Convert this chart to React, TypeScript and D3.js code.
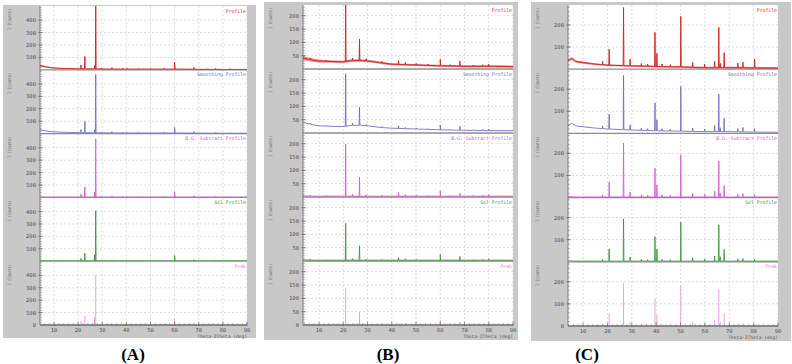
import React from 'react';
import * as d3 from 'd3';

// ---- shared labels ----
const SUBPLOT_TITLES = ['Profile', 'Smoothing Profile', 'B.G. Subtract Profile', 'Sol Profile', 'Peak'];
const TRACE_COLORS = ['#d42a2a', '#6c6cbc', '#cc5ccc', '#3f8f3f', '#e48ad4'];
const TWO_THETA_TICKS = [10, 20, 30, 40, 50, 60, 70, 80, 90];
const X_TITLE = 'Theta-2Theta (deg)';
const Y_TITLE = 'I (Counts)';

// ---- sample A ----
const A_Y_TICKS = [100, 200, 300, 400];
const A_BG_THETA = [4, 5, 7, 10, 15, 20, 30, 40, 50, 60, 70, 80, 90];
const A_PROFILE_BG = [32, 30, 22, 15, 10, 8, 6, 5, 5, 5, 4, 3, 3];
const A_PROFILE_NOISE = [7, 7, 5, 4, 4, 3, 3, 3, 3, 3, 3, 3, 3];
const A_SMOOTH_BG = [30, 28, 20, 14, 10, 8, 6, 5, 5, 5, 4, 3, 3];
const A_RESIDUAL_BG = [3, 3, 2, 2, 2, 2, 2, 2, 2, 2, 2, 2, 2];
const A_PEAK_THETA = [21.2, 22.8, 26.8, 27.3, 29.6, 34.0, 38.5, 40.4, 45.0, 50.2, 55.5, 60.0, 68.0, 73.5, 77.0, 83.0];
const A_PROFILE_H = [30, 100, 28, 560, 8, 12, 6, 6, 5, 5, 8, 55, 15, 5, 8, 6];
const A_SMOOTH_H = [25, 90, 25, 470, 6, 10, 5, 5, 4, 4, 6, 43, 12, 4, 6, 4];
const A_BGSUB_H = [25, 83, 40, 470, 6, 10, 5, 5, 4, 4, 6, 43, 12, 4, 6, 4];
const A_SOL_H = [20, 62, 50, 405, 5, 8, 4, 4, 3, 3, 5, 43, 10, 3, 5, 3];
const A_PEAK_H = [32, 75, 65, 403, 6, 10, 5, 5, 4, 4, 5, 48, 10, 4, 5, 4];

// ---- sample B ----
const B_Y_TICKS = [50, 100, 150, 200];
const B_BG_THETA = [3.4, 5, 8, 10, 15, 20, 23, 27, 30, 35, 40, 50, 60, 70, 80, 90];
const B_PROFILE_BG = [42, 38, 32, 30, 28, 27, 31, 32, 30, 24, 18, 15, 12, 10, 10, 9];
const B_PROFILE_NOISE = [8, 7, 6, 6, 5, 5, 5, 5, 5, 4, 4, 4, 4, 4, 4, 4];
const B_SMOOTH_BG = [40, 36, 30, 27, 25, 24, 28, 29, 27, 21, 18, 15, 12, 10, 9, 9];
const B_RESIDUAL_BG = [4, 4, 3, 3, 3, 3, 3, 3, 3, 3, 3, 3, 3, 3, 3, 3];
const B_PEAK_THETA = [6.5, 13.0, 21.0, 23.8, 26.7, 29.5, 36.0, 42.8, 45.6, 50.1, 55.0, 60.0, 64.0, 68.1, 73.5, 77.5, 80.0];
const B_PROFILE_H = [6, 5, 212, 10, 80, 8, 6, 14, 8, 6, 5, 24, 5, 19, 5, 6, 8];
const B_SMOOTH_H = [4, 3, 197, 8, 68, 5, 4, 10, 5, 4, 3, 18, 3, 15, 3, 4, 6];
const B_BGSUB_H = [4, 3, 195, 8, 71, 5, 4, 14, 6, 4, 3, 20, 3, 11, 3, 4, 6];
const B_SOL_H = [3, 2, 138, 6, 54, 4, 3, 10, 5, 3, 2, 22, 2, 14, 2, 3, 5];
const B_PEAK_H = [4, 3, 140, 5, 50, 4, 3, 6, 8, 3, 3, 19, 3, 12, 3, 3, 5];

// ---- sample C ----
const C_Y_TICKS = [100, 200];
const C_BG_THETA = [3.8, 5.4, 7, 10, 15, 20, 30, 40, 50, 60, 70, 80, 90];
const C_PROFILE_BG = [38, 48, 35, 30, 23, 18, 15, 12, 10, 7, 7, 6, 5];
const C_PROFILE_NOISE = [6, 6, 5, 5, 4, 4, 4, 4, 4, 4, 4, 4, 4];
const C_SMOOTH_BG = [35, 45, 34, 30, 24, 20, 15, 12, 10, 8, 8, 6, 5];
const C_RESIDUAL_BG = [4, 4, 3, 3, 3, 3, 3, 3, 3, 3, 3, 3, 3];
const C_PEAK_THETA = [18.0, 20.7, 26.6, 29.3, 33.9, 36.5, 39.5, 40.3, 42.4, 45.8, 50.1, 55.0, 59.9, 64.0, 65.7, 66.3, 67.9, 73.5, 75.6, 80.4];
const C_PROFILE_H = [15, 73, 262, 30, 12, 10, 154, 60, 12, 10, 229, 22, 16, 28, 182, 20, 68, 21, 26, 40];
const C_SMOOTH_H = [12, 68, 245, 23, 10, 8, 126, 50, 10, 8, 202, 15, 12, 28, 169, 18, 61, 15, 20, 15];
const C_BGSUB_H = [10, 68, 243, 23, 10, 8, 130, 55, 10, 8, 190, 15, 12, 26, 162, 18, 50, 12, 15, 10];
const C_SOL_H = [8, 55, 191, 19, 8, 6, 110, 55, 8, 6, 176, 15, 10, 23, 164, 20, 53, 10, 12, 8];
const C_PEAK_H = [8, 56, 195, 18, 8, 6, 125, 50, 8, 6, 182, 15, 10, 29, 165, 18, 56, 10, 12, 8];

type PanelSpec = {
  caption: string;
  captionX: number;
  frame: [number, number, number, number];
  plot: [number, number, number, number];
  domain: [number, number];
  yMax: number;
  yTicks: number[];
  yMinorStep: number;
  bgTheta: number[];
  profileBg: number[];
  profileNoise: number[];
  smoothBg: number[];
  residualBg: number[];
  peakTheta: number[];
  heights: number[][];
};

const PANELS: PanelSpec[] = [
  {
    caption: '(A)', captionX: 133,
    frame: [3, 5, 256, 338], plot: [40, 6, 247, 325],
    domain: [4.2, 90], yMax: 514, yTicks: A_Y_TICKS, yMinorStep: 20,
    bgTheta: A_BG_THETA, profileBg: A_PROFILE_BG, profileNoise: A_PROFILE_NOISE,
    smoothBg: A_SMOOTH_BG, residualBg: A_RESIDUAL_BG, peakTheta: A_PEAK_THETA,
    heights: [A_PROFILE_H, A_SMOOTH_H, A_BGSUB_H, A_SOL_H, A_PEAK_H],
  },
  {
    caption: '(B)', captionX: 388,
    frame: [264, 2, 518, 340], plot: [303, 5, 513, 325],
    domain: [3.4, 90], yMax: 240, yTicks: B_Y_TICKS, yMinorStep: 10,
    bgTheta: B_BG_THETA, profileBg: B_PROFILE_BG, profileNoise: B_PROFILE_NOISE,
    smoothBg: B_SMOOTH_BG, residualBg: B_RESIDUAL_BG, peakTheta: B_PEAK_THETA,
    heights: [B_PROFILE_H, B_SMOOTH_H, B_BGSUB_H, B_SOL_H, B_PEAK_H],
  },
  {
    caption: '(C)', captionX: 587,
    frame: [531, 2, 791, 341], plot: [568, 5, 778, 326],
    domain: [3.8, 90], yMax: 290, yTicks: C_Y_TICKS, yMinorStep: 20,
    bgTheta: C_BG_THETA, profileBg: C_PROFILE_BG, profileNoise: C_PROFILE_NOISE,
    smoothBg: C_SMOOTH_BG, residualBg: C_RESIDUAL_BG, peakTheta: C_PEAK_THETA,
    heights: [C_PROFILE_H, C_SMOOTH_H, C_BGSUB_H, C_SOL_H, C_PEAK_H],
  },
];

const MONO = '"DejaVu Sans Mono", "Liberation Mono", monospace';

// Background line with narrow spikes placed on top of it at every reflection.
function tracePoints(theta: number[], bg: number[], peaks: number[], heights: number[], w = 0.15) {
  const bgAt = d3.scaleLinear().domain(theta).range(bg).clamp(true);
  const pts: [number, number][] = theta.map((t, j) => [t, bg[j]] as [number, number]);
  peaks.forEach((p, j) => {
    pts.push([p - w, bgAt(p - w)], [p, bgAt(p) + heights[j]], [p + w, bgAt(p + w)]);
  });
  pts.sort((a, b) => a[0] - b[0]);
  return pts;
}

function Panel({ spec, idx }: { spec: PanelSpec; idx: number }) {
  const [px0, py0, px1, py1] = spec.plot;
  const [fx0, fy0, fx1, fy1] = spec.frame;
  const subH = (py1 - py0) / 5;
  const x = d3.scaleLinear().domain(spec.domain).range([px0, px1]);
  const minorX = d3.range(Math.ceil(spec.domain[0] / 2) * 2, spec.domain[1] + 0.01, 2);

  const subplots = SUBPLOT_TITLES.map((title, i) => {
    const top = py0 + i * subH;
    const bottom = top + subH;
    const y = d3.scaleLinear().domain([0, spec.yMax]).range([bottom, top]);
    const clipId = `clip-${idx}-${i}`;
    const color = TRACE_COLORS[i];
    const heights = spec.heights[i];
    const minorY = d3.range(spec.yMinorStep, spec.yMax, spec.yMinorStep);

    let trace: React.ReactNode = null;
    if (i < 4) {
      const bg = [spec.profileBg, spec.smoothBg, spec.residualBg, spec.residualBg][i];
      const pts = tracePoints(spec.bgTheta, bg, spec.peakTheta, heights);
      const line = d3.line<[number, number]>().x(d => x(d[0])).y(d => y(d[1]));
      let band: React.ReactNode = null;
      if (i === 0) {
        const area = d3.area<number>()
          .x((_, j) => x(spec.bgTheta[j]))
          .y0((v, j) => y(v - spec.profileNoise[j]))
          .y1((v, j) => y(v + spec.profileNoise[j]))
          .curve(d3.curveMonotoneX);
        band = <path d={area(spec.profileBg) || ''} fill={color} opacity={0.55} />;
      }
      trace = (
        <g clipPath={`url(#${clipId})`}>
          {band}
          <path d={line(pts) || ''} fill="none" stroke={color} strokeWidth={i === 0 ? 1 : 0.85} />
        </g>
      );
    } else {
      trace = (
        <g clipPath={`url(#${clipId})`}>
          {spec.peakTheta.map((p, j) => (
            <line key={j} x1={x(p)} x2={x(p)} y1={y(0)} y2={y(heights[j])} stroke={color} strokeWidth={0.8} />
          ))}
        </g>
      );
    }

    return (
      <g key={i}>
        <clipPath id={clipId}>
          <rect x={px0} y={top} width={px1 - px0} height={subH} />
        </clipPath>
        {spec.yTicks.map(t => (
          <line key={`g${t}`} x1={px0} x2={px1} y1={y(t)} y2={y(t)} stroke="#cfcfcf" strokeWidth={0.7} strokeDasharray="2,2" />
        ))}
        {minorY.map(t => (
          <line key={`m${t}`} x1={px0} x2={px0 + 2} y1={y(t)} y2={y(t)} stroke="#777" strokeWidth={0.5} />
        ))}
        {spec.yTicks.map(t => (
          <g key={`t${t}`}>
            <line x1={px0 - 2} x2={px0 + 3} y1={y(t)} y2={y(t)} stroke="#666" strokeWidth={0.6} />
            <text x={px0 - 4} y={y(t) + 2} fontSize={5.5} fontFamily={MONO} fill="#555" textAnchor="end">{t}</text>
          </g>
        ))}
        {i === 4 && (
          <text x={px0 - 4} y={y(0) + 2} fontSize={5.5} fontFamily={MONO} fill="#555" textAnchor="end">0</text>
        )}
        <text
          transform={`translate(${fx0 + 8},${top + 3}) rotate(-90)`}
          fontSize={4.6} fontFamily={MONO} fill="#666" textAnchor="end"
          textLength={21} lengthAdjust="spacingAndGlyphs"
        >{Y_TITLE}</text>
        <line x1={px0} x2={px1} y1={bottom} y2={bottom} stroke="#8c8c8c" strokeWidth={1.3} />
        {trace}
        <text
          x={px1 - 1} y={top + 6.5} fontSize={4.8} fontFamily={MONO} fill={color} textAnchor="end"
        >{title}</text>
      </g>
    );
  });

  return (
    <g>
      <rect x={fx0} y={fy0} width={fx1 - fx0} height={fy1 - fy0} fill="#c8c8c8" />
      <rect x={px0} y={py0} width={px1 - px0} height={py1 - py0} fill="#ffffff" />
      {TWO_THETA_TICKS.map(t => (
        <line key={`v${t}`} x1={x(t)} x2={x(t)} y1={py0} y2={py1} stroke="#cfcfcf" strokeWidth={0.7} strokeDasharray="2,2" />
      ))}
      {subplots}
      <line x1={px0} x2={px0} y1={py0} y2={py1} stroke="#666" strokeWidth={0.8} />
      <line x1={px0} x2={px1} y1={py1} y2={py1} stroke="#666" strokeWidth={0.8} />
      {minorX.map(t => (
        <line key={`mx${t}`} x1={x(t)} x2={x(t)} y1={py1} y2={py1 - 2} stroke="#777" strokeWidth={0.5} />
      ))}
      {TWO_THETA_TICKS.map(t => (
        <g key={`xt${t}`}>
          <line x1={x(t)} x2={x(t)} y1={py1 + 1} y2={py1 - 3.5} stroke="#666" strokeWidth={0.6} />
          <text x={x(t)} y={py1 + 7} fontSize={5.5} fontFamily={MONO} fill="#555" textAnchor="middle">{t}</text>
        </g>
      ))}
      <text
        x={px1} y={py1 + 12.5} fontSize={4.6} fontFamily={MONO} fill="#555" textAnchor="end"
      >{X_TITLE}</text>
      <text
        x={spec.captionX} y={360} fontSize={17} fontWeight="bold"
        fontFamily='"Liberation Serif", "Times New Roman", serif' fill="#000" textAnchor="middle"
      >{spec.caption}</text>
    </g>
  );
}

export default function App() {
  return (
    <svg
      width={792} height={364} viewBox="0 0 792 364"
      style={{ position: 'absolute', left: 0, top: 0, background: '#ffffff' }}
    >
      {PANELS.map((p, i) => <Panel key={p.caption} spec={p} idx={i} />)}
    </svg>
  );
}
